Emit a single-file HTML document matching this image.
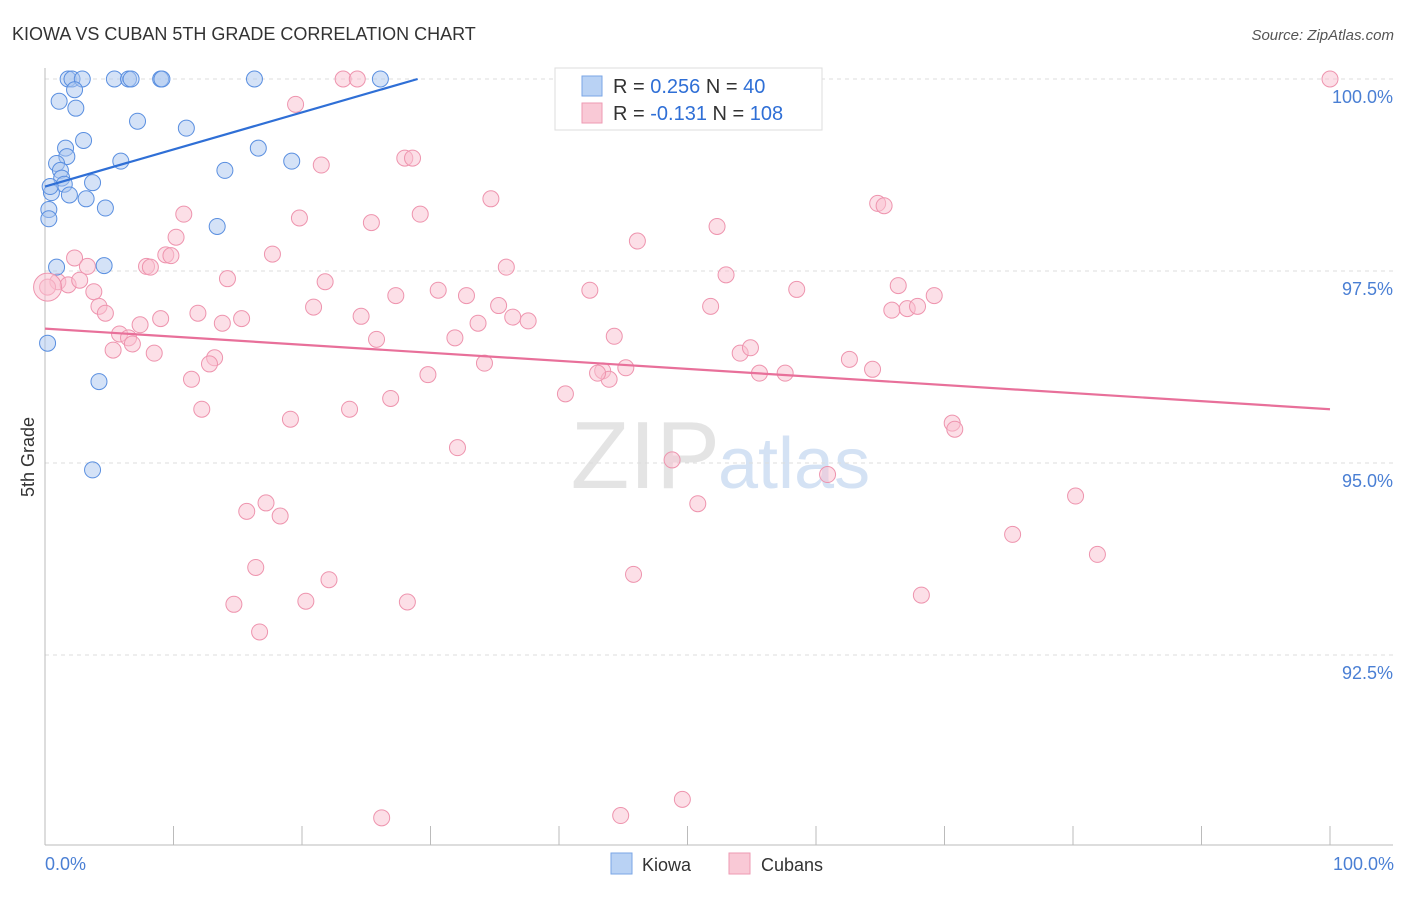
<!DOCTYPE html>
<html><head><meta charset="utf-8"><style>
body{margin:0;background:#fff;font-family:"Liberation Sans",sans-serif}
svg text{font-family:"Liberation Sans",sans-serif}
</style></head><body>
<svg width="1406" height="892">
<text x="12" y="40" font-size="18" fill="#333">KIOWA VS CUBAN 5TH GRADE CORRELATION CHART</text>
<text x="1394" y="40" font-size="15" fill="#555" font-style="italic" text-anchor="end">Source: ZipAtlas.com</text>
<text x="720" y="488" font-size="96" fill="#e4e4e4" text-anchor="end" font-family="Liberation Serif">ZIP</text>
<text x="718" y="488" font-size="72" fill="#d4e2f4">atlas</text>
<g id="grid"></g><g id="axes"></g><g id="pts"></g><g id="lines"></g>
<text transform="translate(34,457) rotate(-90)" font-size="18" fill="#333" text-anchor="middle">5th Grade</text>
<text x="45" y="870" font-size="18" fill="#4a7fd4">0.0%</text>
<text x="1394" y="870" font-size="18" fill="#4a7fd4" text-anchor="end">100.0%</text>
<g>
<rect x="555" y="68" width="267" height="62" fill="#fff" stroke="#ddd"/>
<rect x="582" y="76" width="20" height="20" fill="#b9d2f4" stroke="#7aa6e6"/>
<rect x="582" y="103" width="20" height="20" fill="#f9c9d6" stroke="#ee9ab3"/>
<text x="613" y="93" font-size="20" fill="#333">R = <tspan fill="#2f6fd6">0.256</tspan>   N =  <tspan fill="#2f6fd6">40</tspan></text>
<text x="613" y="120" font-size="20" fill="#333">R = <tspan fill="#2f6fd6">-0.131</tspan>   N = <tspan fill="#2f6fd6">108</tspan></text>
</g>
<g>
<rect x="611" y="853" width="21" height="21" fill="#b9d2f4" stroke="#7aa6e6"/>
<text x="642" y="871" font-size="18" fill="#333">Kiowa</text>
<rect x="729" y="853" width="21" height="21" fill="#f9c9d6" stroke="#ee9ab3"/>
<text x="761" y="871" font-size="18" fill="#333">Cubans</text>
</g>
</svg>
<script>
const yTicks=[100,97.5,95,92.5];
const yTickLabels=["100.0%","97.5%","95.0%","92.5%"];
const kiowaX=[1.8,2.1,2.9,5.4,6.5,6.7,9,9.1,16.3,26.1,1.1,2.3,2.4,7.2,11,3,1.6,1.7,5.9,16.6,19.2,0.9,1.2,1.3,1.5,3.7,0.5,1.9,3.2,4.7,0.3,0.3,14,13.4,0.9,4.6,0.2,4.2,3.7,0.4];
const kiowaY=[100,100,100,100,100,100,100,100,100,100,99.71,99.86,99.62,99.45,99.36,99.2,99.1,98.99,98.93,99.1,98.93,98.9,98.81,98.71,98.63,98.65,98.52,98.49,98.44,98.32,98.3,98.18,98.81,98.08,97.55,97.57,96.56,96.06,94.91,98.6];
const cubanX=[100,23.2,24.3,19.5,21.5,28,28.6,34.7,29.2,25.4,19.8,10.8,10.2,9.4,9.8,17.7,7.9,2.3,3.3,1,0.2,1.8,2.7,3.8,4.2,4.7,7.4,5.8,6.5,6.8,5.3,8.5,9,11.9,13.8,15.3,14.2,20.9,21.8,24.6,27.3,25.8,30.6,32.8,35.3,35.9,36.4,37.6,33.7,31.9,34.2,29.8,26.9,23.7,19.1,32.1,12.2,11.4,13.2,12.8,42.4,44.3,43.4,43.9,45.2,43,46.1,52.3,53,51.8,54.1,54.9,55.6,57.6,58.5,64.8,65.3,66.4,65.9,62.6,64.4,67.1,67.9,69.2,70.6,70.8,40.5,48.8,50.8,60.9,80.2,75.3,81.9,68.2,45.8,28.2,22.1,20.3,17.2,15.7,18.3,16.4,14.7,16.7,26.2,44.8,49.6,8.2];
const cubanY=[100,100,100,99.67,98.88,98.97,98.97,98.44,98.24,98.13,98.19,98.24,97.94,97.71,97.7,97.72,97.56,97.67,97.56,97.36,97.29,97.32,97.38,97.23,97.04,96.95,96.8,96.68,96.63,96.55,96.47,96.43,96.88,96.95,96.82,96.88,97.4,97.03,97.36,96.91,97.18,96.61,97.25,97.18,97.05,97.55,96.9,96.85,96.82,96.63,96.3,96.15,95.84,95.7,95.57,95.2,95.7,96.09,96.37,96.29,97.25,96.65,96.2,96.09,96.24,96.17,97.89,98.08,97.45,97.04,96.43,96.5,96.17,96.17,97.26,98.38,98.35,97.31,96.99,96.35,96.22,97.01,97.04,97.18,95.52,95.44,95.9,95.04,94.47,94.85,94.57,94.07,93.81,93.28,93.55,93.19,93.48,93.2,94.48,94.37,94.31,93.64,93.16,92.8,90.38,90.41,90.62,97.55];
const kiowaTrend=[0,98.6,29,100];
const cubanTrend=[0,96.75,100,95.7];
const X0=45,X1=1330,Y100=79,PPU=76.8;
const sx=v=>X0+(X1-X0)*v/100, sy=v=>Y100+(100-v)*PPU;
const NS="http://www.w3.org/2000/svg";
function mk(t,a,p){const e=document.createElementNS(NS,t);for(const k in a)e.setAttribute(k,a[k]);p.appendChild(e);return e;}
const grid=document.getElementById('grid'),axes=document.getElementById('axes'),pts=document.getElementById('pts'),lines=document.getElementById('lines');
yTicks.forEach((t,i)=>{
 const l=mk('line',{x1:45,x2:1393,y1:sy(t),y2:sy(t),stroke:'#ddd','stroke-dasharray':'4,4'},grid);
 
 
 const tx=mk('text',{x:1393,y:sy(t)+24,'font-size':18,fill:'#4a7fd4','text-anchor':'end'},axes);
 tx.textContent=yTickLabels[i];
 
 
});
const ax=mk('line',{x1:45,x2:1393,y1:845,y2:845,stroke:'#bbb'},axes);


const ay=mk('line',{x1:45,x2:45,y1:68,y2:845,stroke:'#bbb'},axes);


for(let i=0;i<=10;i++){const t=mk('line',{x1:sx(i*10),x2:sx(i*10),y1:826,y2:845,stroke:'#bbb'},axes);
 
 }
function series(xs,ys,fill,stroke,name){xs.forEach((x,i)=>{
 const c=mk('circle',{cx:sx(x),cy:sy(ys[i]),r:8,fill:fill,'fill-opacity':0.5,stroke:stroke,'stroke-width':1},pts);
 
 });}
series(cubanX,cubanY,'#f9c0d0','#ee94ae','cuban-point');
series(kiowaX,kiowaY,'#a9c6f0','#5a8fe0','kiowa-point');
const big1=mk('circle',{cx:sx(0.2),cy:sy(97.29),r:14,fill:'#f9c0d0','fill-opacity':0.5,stroke:'#ee94ae'},pts);


function tl(a,col,name){const l=mk('line',{x1:sx(a[0]),y1:sy(a[1]),x2:sx(a[2]),y2:sy(a[3]),stroke:col,'stroke-width':2.2},lines);
 
 }
tl(kiowaTrend,'#2f6fd6','kiowa-trend-line');
tl(cubanTrend,'#e8709a','cuban-trend-line');
</script>
</body></html>
